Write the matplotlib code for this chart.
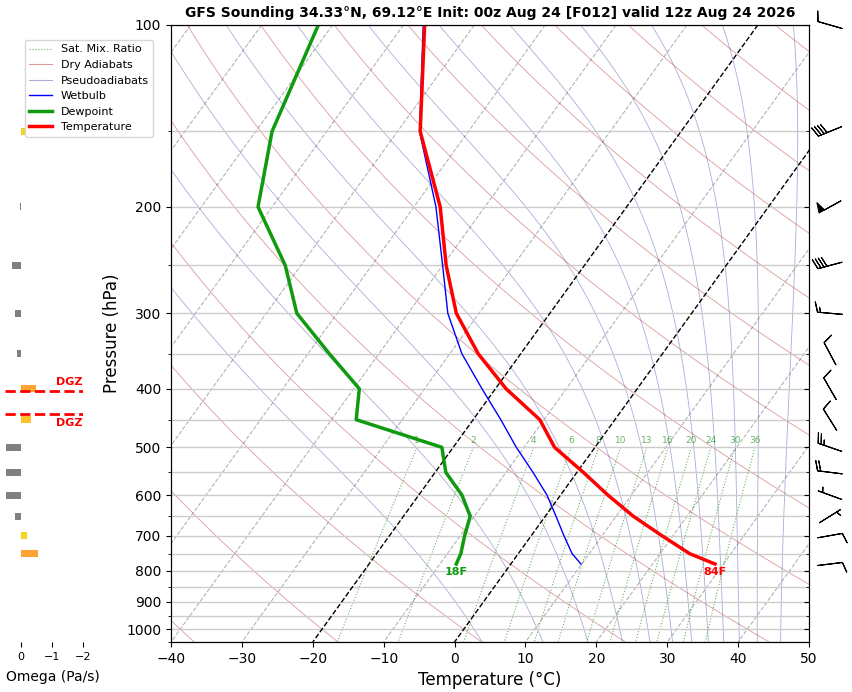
import numpy as np
import matplotlib
matplotlib.use("Agg")
import matplotlib.pyplot as plt
from matplotlib.lines import Line2D
from matplotlib.ticker import NullFormatter

# sounding values
title = "GFS Sounding 34.33°N, 69.12°E Init: 00z Aug 24 [F012] valid 12z Aug 24 2026"
pres = [100, 150, 200, 250, 300, 350, 400, 450, 500, 550, 600, 650, 700, 750, 780]
temp = [-67.0, -56.8, -46.3, -39.5, -33.2, -26.0, -18.5, -10.6, -5.7, 0.9, 6.7, 12.4, 18.4, 24.2, 28.8]
dewp = [-82.0, -77.7, -72.0, -62.2, -55.7, -47.0, -39.2, -36.5, -21.6, -18.5, -13.9, -10.6, -9.4, -8.1, -7.7]
wetb = [-67.2, -56.9, -46.9, -40.0, -34.4, -28.3, -21.9, -16.1, -11.1, -6.2, -1.9, 1.5, 4.6, 7.6, 9.9]

wind_p = [100, 150, 200, 250, 300, 350, 400, 450, 500, 550, 600, 650, 700, 780]
wind_dir = [286, 248, 241, 255, 275, 332, 330, 328, 289, 277, 290, 58, 80, 83]
wind_kt = [10, 40, 50, 40, 15, 10, 10, 10, 25, 20, 5, 5, 10, 10]

omega_p = [150, 200, 250, 300, 350, 400, 450, 500, 550, 600, 650, 700, 750]
omega = [-0.13, 0.03, 0.29, 0.19, 0.13, -0.48, -0.32, 0.48, 0.48, 0.48, 0.19, -0.19, -0.55]

dgz_top = 404
dgz_bottom = 440
mix_ratios = [1, 2, 4, 6, 8, 10, 13, 16, 20, 24, 30, 36]

P_BOT = 1050.0
SKEW = 26.7
RD, CP, LV, EPS = 287.04, 1005.7, 2.501e6, 0.622


def skew(t, p):
    return np.asarray(t) + SKEW * np.log(P_BOT / np.asarray(p))


def sat_vp(tc):
    return 6.112 * np.exp(17.67 * tc / (tc + 243.5))


def moist_slope(tk, p):
    es = sat_vp(tk - 273.15)
    rs = EPS * es / (p - es)
    num = RD * tk + LV * rs
    den = CP + LV ** 2 * rs * EPS / (RD * tk ** 2)
    return num / den / p


def pseudoadiabats(t_top, plev):
    out = np.zeros((len(plev), len(t_top)))
    t = np.array(t_top, dtype=float) + 273.15
    out[0] = t
    for i in range(1, len(plev)):
        p0, h = plev[i - 1], plev[i] - plev[i - 1]
        k1 = moist_slope(t, p0)
        k2 = moist_slope(t + h * k1 / 2, p0 + h / 2)
        k3 = moist_slope(t + h * k2 / 2, p0 + h / 2)
        k4 = moist_slope(t + h * k3, p0 + h)
        t = t + h * (k1 + 2 * k2 + 2 * k3 + k4) / 6
        out[i] = t
    return out - 273.15


fig = plt.figure(figsize=(8.53, 6.92), dpi=100)
ax = fig.add_axes([171 / 853, 50 / 692, 638 / 853, 617 / 692])
ax.set_yscale("log")

plev = np.geomspace(100, P_BOT, 120)

# isotherms
for t0 in range(-160, 51, 10):
    tl = np.full_like(plev, t0)
    if t0 in (0, -20):
        ax.plot(skew(tl, plev), plev, color="black", ls="--", lw=1, zorder=2)
    else:
        ax.plot(skew(tl, plev), plev, color="gray", ls="--", lw=0.8, alpha=0.6, zorder=1)

# dry adiabats
for theta in np.arange(173.15, 600, 20):
    tl = theta * (plev / 1000.0) ** (RD / CP) - 273.15
    ax.plot(skew(tl, plev), plev, color="firebrick", lw=0.6, alpha=0.45, zorder=1)

# pseudoadiabats, started at the top of the chart
tops = np.arange(-125, -10, 10)
moist = pseudoadiabats(tops, plev)
for j in range(len(tops)):
    ax.plot(skew(moist[:, j], plev), plev, color="#3030a0", lw=0.6, alpha=0.4, zorder=1)

# saturation mixing ratio lines
pm = np.geomspace(500, P_BOT, 40)
for w in mix_ratios:
    e = (w / 1000.0) * pm / (EPS + w / 1000.0)
    ln = np.log(e / 6.112)
    td = 243.5 * ln / (17.67 - ln)
    ax.plot(skew(td, pm), pm, color="green", ls=":", lw=0.8, alpha=0.6, zorder=1)
    ax.text(skew(td[0], 500), 500 * 0.99, str(w), color="green", alpha=0.6,
            fontsize=6.5, ha="center", va="bottom", zorder=3)

ax.plot(skew(wetb, pres), pres, color="blue", lw=1, zorder=4)
ax.plot(skew(dewp, pres), pres, color="#109a10", lw=2.5, zorder=5)
ax.plot(skew(temp, pres), pres, color="red", lw=2.5, zorder=6)

ax.annotate(f"{temp[-1] * 9 / 5 + 32:.0f}F", (skew(temp[-1], pres[-1]), pres[-1]),
            xytext=(0, -2), textcoords="offset points", ha="center", va="top",
            color="red", fontsize=8, fontweight="bold", zorder=7)
ax.annotate(f"{dewp[-1] * 9 / 5 + 32:.0f}F", (skew(dewp[-1], pres[-1]), pres[-1]),
            xytext=(0, -2), textcoords="offset points", ha="center", va="top",
            color="#109a10", fontsize=8, fontweight="bold", zorder=7)

major = list(range(100, 1001, 100))
minor = list(range(150, 1051, 100))
ax.set_ylim(P_BOT, 100)
ax.set_xlim(-40, 50)
ax.set_yticks(major)
ax.set_yticklabels([str(p) for p in major])
ax.set_yticks(minor, minor=True)
ax.yaxis.set_minor_formatter(NullFormatter())
ax.set_xticks(range(-40, 51, 10))
ax.grid(axis="y", which="both", color="#cccccc", lw=1, zorder=0)
ax.tick_params(labelsize=10)
ax.set_xlabel("Temperature (°C)", fontsize=12)
ax.set_ylabel("Pressure (hPa)", fontsize=12)
ax.set_title(title, fontsize=10, fontweight="bold")

axr = ax.twinx()
axr.set_yscale("log")
axr.set_ylim(P_BOT, 100)
axr.set_yticks(major)
axr.set_yticks(minor, minor=True)
axr.tick_params(axis="y", which="both", direction="in", labelright=False)

# omega panel
axw = fig.add_axes([5.5 / 853, 50 / 692, 77.5 / 853, 617 / 692])
axw.set_yscale("log")
colors = []
for w in omega:
    if w >= 0:
        colors.append("gray")
    elif w > -0.25:
        colors.append("#f4d41e")
    elif w > -0.4:
        colors.append("#fcc22c")
    else:
        colors.append("#ffa333")
heights = [p * 0.027 for p in omega_p]
axw.barh(omega_p, omega, height=heights, color=colors)
axw.axhline(dgz_top, color="red", ls="--", lw=2)
axw.axhline(dgz_bottom, color="red", ls="--", lw=2)
axw.text(-2.0, dgz_top * 0.985, "DGZ", color="red", fontsize=8, fontweight="bold",
         ha="right", va="bottom")
axw.text(-2.0, dgz_bottom * 1.015, "DGZ", color="red", fontsize=8, fontweight="bold",
         ha="right", va="top")
axw.set_ylim(P_BOT, 100)
axw.set_xlim(0.5, -2)
axw.set_xticks([0, -1, -2])
axw.set_yticks([])
axw.set_yticks([], minor=True)
axw.tick_params(axis="x", labelsize=8)
for s in axw.spines.values():
    s.set_visible(False)
axw.set_xlabel("Omega (Pa/s)", fontsize=10)
axw.xaxis.set_label_coords(0.61, -0.045)

# wind barbs
axb = fig.add_axes([811 / 853, 50 / 692, 38 / 853, 617 / 692])
axb.set_yscale("log")
rad = np.radians(wind_dir)
u = -np.array(wind_kt) * np.sin(rad)
v = -np.array(wind_kt) * np.cos(rad)
axb.barbs(np.full(len(wind_p), 0.5), wind_p, u, v, pivot="middle", length=6,
          lw=0.8, clip_on=False)
axb.set_xlim(0, 1)
axb.set_ylim(P_BOT, 100)
axb.axis("off")

handles = [
    Line2D([], [], color="green", ls=":", lw=0.8, alpha=0.6),
    Line2D([], [], color="firebrick", lw=0.8, alpha=0.45),
    Line2D([], [], color="#3030a0", lw=0.8, alpha=0.4),
    Line2D([], [], color="blue", lw=1),
    Line2D([], [], color="#109a10", lw=2.5),
    Line2D([], [], color="red", lw=2.5),
]
labels = ["Sat. Mix. Ratio", "Dry Adiabats", "Pseudoadiabats", "Wetbulb", "Dewpoint", "Temperature"]
fig.legend(handles, labels, loc="upper left", bbox_to_anchor=(25 / 853, 1 - 40 / 692),
           fontsize=8, borderaxespad=0)

fig.savefig("out.png", dpi=100)
